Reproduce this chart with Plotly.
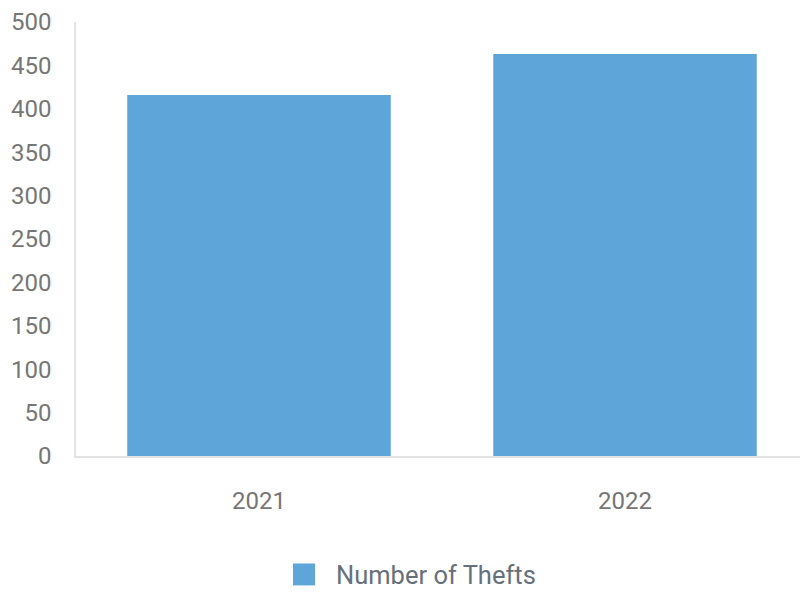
import plotly.graph_objects as go

years = ["2021", "2022"]
thefts = [416, 463]
series_name = "Number of Thefts"
y_ticks = [0, 50, 100, 150, 200, 250, 300, 350, 400, 450, 500]

bar_color = "#5ea5da"

# page has an 8px body margin; plot area target in page coords: x 76..808, y 20..456
OFF = 8
L, T = 76 - OFF, 20 - OFF
PW, PH = 732, 436

fig = go.Figure()
fig.add_trace(go.Bar(x=years, y=thefts, name=series_name, marker_color=bar_color,
                     marker_line_width=0, width=0.72, showlegend=False))

fig.update_layout(
    width=800, height=590,
    margin=dict(l=L, r=0, t=T, b=590 - T - PH),
    paper_bgcolor="white", plot_bgcolor="white",
    font=dict(family="Roboto", size=23, color="#757575"),
    xaxis=dict(showgrid=False, showline=True, linecolor="#e3e3e3", linewidth=1.5,
               ticks="", ticklabelstandoff=22, tickfont=dict(size=24, color="#767676")),
    yaxis=dict(range=[0, 500], tickvals=y_ticks, showgrid=False, zeroline=False,
               showline=True, linecolor="#e3e3e3", linewidth=1.5,
               ticks="", ticklabelstandoff=18, ticklabeloverflow="allow",
               tickfont=dict(size=24, color="#767676")),
)

# manual legend (page coords converted to paper coords)
def px(x):
    return (x - 76) / PW

def py(y):
    return (456 - y) / PH

fig.add_shape(type="rect", xref="paper", yref="paper",
              x0=px(293), x1=px(315), y0=py(586), y1=py(564),
              fillcolor=bar_color, line_width=0)
fig.add_annotation(xref="paper", yref="paper", x=px(334), y=py(576),
                   text=series_name, showarrow=False, xanchor="left", yanchor="middle",
                   font=dict(family="Roboto", size=25.5, color="#66707c"))

fig.write_html("out.html")
